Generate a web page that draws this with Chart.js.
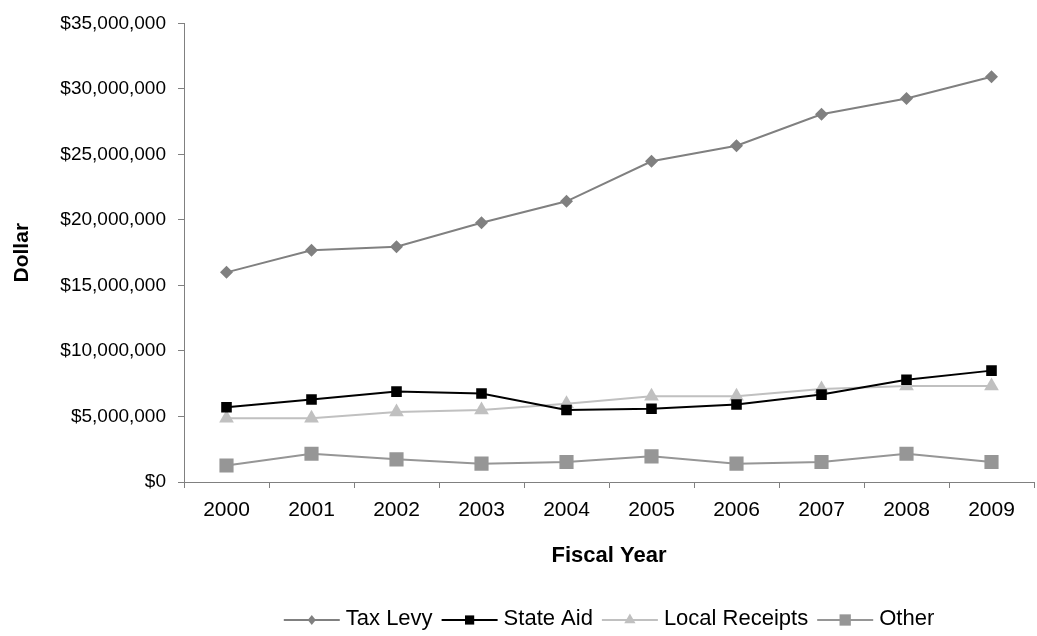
<!DOCTYPE html>
<html><head><meta charset="utf-8">
<script src="https://cdn.jsdelivr.net/npm/chart.js@4/dist/chart.umd.min.js"></script>
<style>
html,body{margin:0;padding:0;overflow:hidden;background:#fff;width:1037px;height:636px}
#wrap{width:1044px;height:636px;position:relative}
</style></head>
<body><div id="wrap"><canvas id="c" width="1044" height="636"></canvas></div>
<script>
const years = ['2000','2001','2002','2003','2004','2005','2006','2007','2008','2009'];
const taxLevy = [16000000,17680000,17960000,19790000,21420000,24480000,25660000,28070000,29270000,30930000];
const stateAid = [5700000,6300000,6900000,6750000,5490000,5590000,5920000,6670000,7800000,8500000];
const localReceipts = [4870000,4870000,5340000,5490000,5970000,6550000,6550000,7100000,7320000,7320000];
const other = [1260000,2160000,1730000,1400000,1530000,1960000,1400000,1530000,2160000,1530000];
const yTicks = [0,5000000,10000000,15000000,20000000,25000000,30000000,35000000];

const FONT = "'Liberation Sans', Arial, sans-serif";
Chart.defaults.font.family = FONT;
Chart.defaults.color = '#000';

const series = [
  {label:'Tax Levy', data:taxLevy, color:'#808080', style:'rectRot', r:6.5, lr:5},
  {label:'State Aid', data:stateAid, color:'#000000', style:'rect', r:7.5, lr:6.5},
  {label:'Local Receipts', data:localReceipts, color:'#C0C0C0', style:'triangle', r:8.5, lr:6.5},
  {label:'Other', data:other, color:'#969696', style:'rect', r:10, lr:8}
];

function drawMarker(ctx, style, x, y, r){
  ctx.beginPath();
  if(style==='rectRot'){
    ctx.moveTo(x, y-r); ctx.lineTo(x+r*0.8, y); ctx.lineTo(x, y+r); ctx.lineTo(x-r*0.8, y);
  } else if(style==='rect'){
    const s = r*Math.SQRT1_2; ctx.rect(x-s, y-s, 2*s, 2*s);
  } else if(style==='triangle'){
    ctx.moveTo(x, y-r); ctx.lineTo(x+r*0.866, y+r*0.5); ctx.lineTo(x-r*0.866, y+r*0.5);
  }
  ctx.closePath(); ctx.fill();
}

const lineLegend = {
  id:'lineLegend',
  afterDraw(chart){
    const ctx = chart.ctx, ca = chart.chartArea;
    ctx.save();
    ctx.font = "22px " + FONT;
    const sw = 56, g1 = 6, g2 = 9;
    const items = series.map(s=>({s, tw: ctx.measureText(s.label).width}));
    const total = items.reduce((a,it)=>a+sw+g1+it.tw,0) + g2*(items.length-1);
    let x = (ca.left+ca.right)/2 - total/2;
    const y = 620;
    items.forEach(it=>{
      ctx.strokeStyle = it.s.color; ctx.lineWidth = 2;
      ctx.beginPath(); ctx.moveTo(x, y); ctx.lineTo(x+sw, y); ctx.stroke();
      ctx.fillStyle = it.s.color;
      drawMarker(ctx, it.s.style, x+sw/2, y, it.s.lr);
      ctx.fillStyle = '#000'; ctx.textBaseline = 'middle'; ctx.textAlign = 'left';
      ctx.fillText(it.s.label, x+sw+g1, y-1);
      x += sw+g1+it.tw+g2;
    });
    ctx.restore();
  }
};

new Chart(document.getElementById('c'), {
  type:'line',
  data:{
    labels: years,
    datasets: series.map(s=>({
      label:s.label, data:s.data, borderColor:s.color, backgroundColor:s.color,
      borderWidth:2, pointStyle:s.style, pointRadius:s.r, pointHoverRadius:s.r,
      pointBackgroundColor:s.color, pointBorderColor:s.color, pointBorderWidth:0,
      tension:0, fill:false
    }))
  },
  options:{
    responsive:false, animation:false,
    layout:{padding:{top:17,left:0,right:0,bottom:54}},
    plugins:{legend:{display:false}, tooltip:{enabled:false}},
    scales:{
      x:{
        offset:true,
        grid:{display:true, drawOnChartArea:false, drawTicks:true, tickLength:6, offset:true, color:'#808080'},
        border:{display:true, color:'#808080', width:1},
        ticks:{font:{size:21}, color:'#000', padding:10, maxRotation:0, autoSkip:false},
        title:{display:true, text:'Fiscal Year', font:{size:22, weight:'bold'}, color:'#000', padding:{top:0,bottom:13}},
        afterFit(scale){ scale.height = 100; }
      },
      y:{
        min:0, max:35000000,
        afterBuildTicks(scale){ scale.ticks = yTicks.map(v=>({value:v})); },
        grid:{display:true, drawOnChartArea:false, drawTicks:true, tickLength:6, color:'#808080'},
        border:{display:true, color:'#808080', width:1},
        ticks:{font:{size:19}, color:'#000', padding:12,
          callback:(v)=>'$'+Number(v).toLocaleString('en-US')},
        title:{display:true, text:'Dollar', font:{size:21, weight:'bold'}, color:'#000', padding:{top:10,bottom:0}},
        afterFit(scale){ scale.width = 184; }
      }
    }
  },
  plugins:[lineLegend]
});
</script>
</body></html>
